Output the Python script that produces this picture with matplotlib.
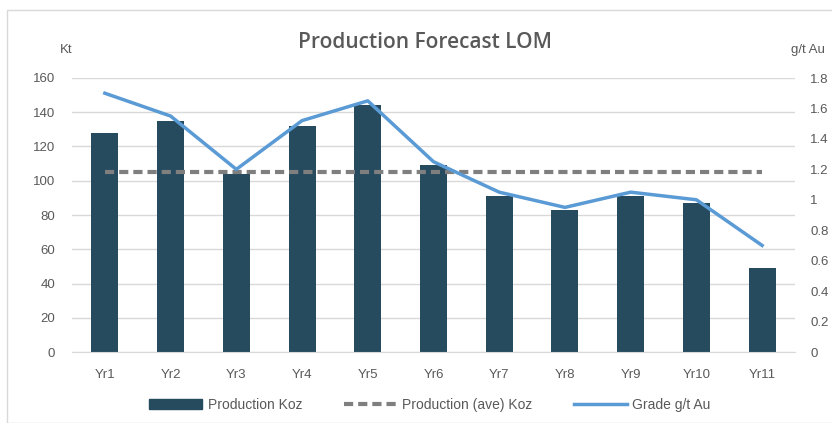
import matplotlib.pyplot as plt
from matplotlib.patches import Rectangle
from matplotlib.lines import Line2D

years = ["Yr1", "Yr2", "Yr3", "Yr4", "Yr5", "Yr6", "Yr7", "Yr8", "Yr9", "Yr10", "Yr11"]
production = [128, 135, 104, 132, 144, 109, 91, 83, 91, 87, 49]
production_ave = [105] * 11
grade = [1.70, 1.55, 1.20, 1.52, 1.65, 1.25, 1.05, 0.95, 1.05, 1.00, 0.70]

plt.rcParams['font.family'] = ['Liberation Sans Narrow', 'Liberation Sans', 'DejaVu Sans']
text_grey = '#595959'

W, H = 832, 423
fig = plt.figure(figsize=(W / 100, H / 100), dpi=100)

# chart frame
fig.patches.append(Rectangle((7 / W, 0), 1, 1 - 10 / H, transform=fig.transFigure,
                             fill=False, edgecolor='#d9d9d9', linewidth=1))

# plot area in pixels: left 72, right 795, top 78, bottom 352
ax = fig.add_axes([72 / W, 1 - 352 / H, (795 - 72) / W, (352 - 78) / H])
x = list(range(len(years)))

bars = ax.bar(x, production, width=0.41, color='#264a5e', zorder=2)
dash, = ax.plot(x, production_ave, color='#7f7f7f', linestyle=(0, (2.2, 1.2)), linewidth=3, zorder=3)

ax.set_ylim(0, 160)
ax.set_yticks(range(0, 161, 20))
ax.set_xlim(-0.5, len(years) - 0.5)
ax.set_xticks(x)
ax.set_xticklabels(years)
ax.grid(axis='y', color='#d9d9d9', linewidth=1, zorder=0)
ax.set_axisbelow(True)
for s in ['top', 'right', 'left']:
    ax.spines[s].set_visible(False)
ax.spines['bottom'].set_color('#d9d9d9')
ax.tick_params(axis='both', length=0, colors=text_grey, labelsize=9.5)
ax.tick_params(axis='y', pad=12)
ax.tick_params(axis='x', pad=12)

ax2 = ax.twinx()
line, = ax2.plot(x, grade, color='#5b9bd5', linewidth=2.5, zorder=4)
ax2.set_ylim(0, 1.8)
ax2.set_yticks([0, 0.2, 0.4, 0.6, 0.8, 1.0, 1.2, 1.4, 1.6, 1.8])
ax2.set_yticklabels(["0", "0.2", "0.4", "0.6", "0.8", "1", "1.2", "1.4", "1.6", "1.8"])
for s in ax2.spines.values():
    s.set_visible(False)
ax2.tick_params(axis='y', length=0, colors=text_grey, labelsize=9.5, pad=11)

fig.text(425 / W, 1 - 42 / H, "Production Forecast LOM", ha='center', va='center',
         fontsize=15, color=text_grey, fontweight='semibold', family=['Open Sans', 'DejaVu Sans'])
fig.text(66 / W, 1 - 50 / H, "Kt", ha='center', va='center', fontsize=9.5, color=text_grey)
fig.text(808 / W, 1 - 50 / H, "g/t Au", ha='center', va='center', fontsize=9.5, color=text_grey)

handles = [Rectangle((0, 0), 1, 1, color='#264a5e'),
           Line2D([], [], color='#7f7f7f', linestyle=(0, (2.2, 1.2)), linewidth=3),
           Line2D([], [], color='#5b9bd5', linewidth=2.5)]
labels = ["Production Koz", "Production (ave) Koz", "Grade g/t Au"]
leg = fig.legend(handles, labels, loc='center', bbox_to_anchor=(430 / W, 1 - 405 / H),
                 ncol=3, frameon=False, fontsize=10, handlelength=3.8, columnspacing=3,
                 handletextpad=0.4)
for t in leg.get_texts():
    t.set_color(text_grey)

fig.savefig("out.png", dpi=100)
